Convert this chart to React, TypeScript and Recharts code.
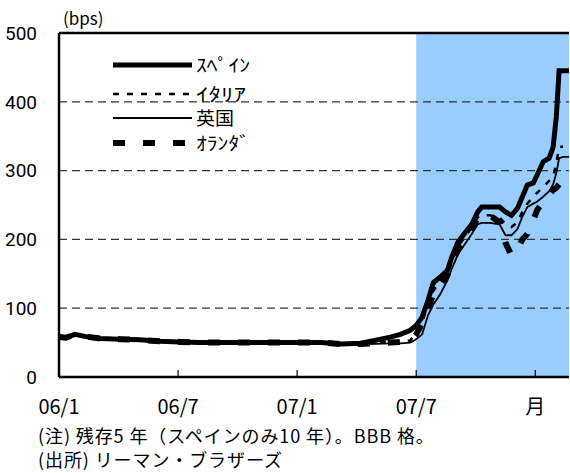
import { LineChart, Line, XAxis, YAxis, ReferenceArea, ReferenceLine, Legend } from 'recharts';

// x = months since 2006/1
const months = [0, 0.35, 0.8, 1.3, 2.07, 3.08, 4.08, 5.09, 6.1, 7.1, 8.6, 10.1, 12, 13.2, 14.2, 15.2, 15.9, 16.7, 17.2, 17.7, 18.0, 18.3, 18.6, 18.86, 19.2, 19.57, 19.8, 20.1, 20.5, 20.8, 21.1, 21.3, 21.7, 22.2, 22.5, 22.8, 23.1, 23.35, 23.6, 23.9, 24.1, 24.4, 24.7, 24.9, 25.06, 25.2, 25.4, 25.7];
const spain = [58, 57, 62, 59, 56, 55, 54, 52, 51, 50, 50, 50, 50, 50, 48, 49, 53, 58, 62, 68, 75, 87, 112, 137, 145, 155, 175, 196, 211, 222, 240, 247, 247, 247, 240, 235, 245, 262, 279, 282, 294, 313, 318, 334, 378, 445, 445, 445];
const italy = [58, 57, 62, 59, 56, 55, 54, 52, 51, 50, 50, 50, 50, 50, 48, 48, 50, 51, 52, 53, 65, 80, 105, 125, 140, 150, 168, 190, 205, 218, 232, 235, 235, 232, 222, 218, 225, 240, 252, 262, 268, 276, 285, 291, 310, 334, 335, null];
const uk = [57, 56, 61, 58, 55, 54, 53, 51, 50, 49, 49, 49, 49, 49, 47, 47, 48, 49, 49, 50, 55, 62, 90, 105, 120, 140, 158, 178, 195, 208, 222, 224, 224, 222, 206, 206, 215, 233, 247, 252, 255, 262, 270, 280, 296, 318, 320, 320];
const netherlands = [58, 57, 62, 59, 56, 55, 54, 52, 51, 50, 50, 50, 50, 50, 48, 48, 49, 50, 51, 52, 62, 78, 100, 120, 134, 148, 165, 185, 198, 215, 232, 236, 235, 225, 195, 177, 185, 200, 208, 228, 243, 255, 265, 272, 275, 280, null, null];

const xTicks = [0, 6, 12, 18, 24];
const xTickLabels = ['06/1', '06/7', '07/1', '07/7', '月'];
const yTicks = [0, 100, 200, 300, 400, 500];
const gridLevels = [100, 200, 300, 400];

const data = months.map((m, i) => ({
  m, spain: spain[i], italy: italy[i], uk: uk[i], netherlands: netherlands[i],
}));

const jp = '"Noto Sans CJK JP", sans-serif';

const legendRows = [
  { name: 'ｽﾍﾟｲﾝ', w: 5, dash: undefined, len: 54 },
  { name: 'ｲﾀﾘｱ', w: 2.5, dash: '6 8', len: 50 },
  { name: '英国', w: 1.8, dash: undefined, len: 38 },
  { name: 'ｵﾗﾝﾀﾞ', w: 6, dash: '12 18', len: 54 },
];
const legendY = [13, 42, 66, 91];

function LegendBox() {
  return (
    <svg width={160} height={105}>
      {legendRows.map((r, i) => (
        <g key={r.name}>
          <line x1={3} x2={82} y1={legendY[i]} y2={legendY[i]} stroke="#000" strokeWidth={r.w} strokeDasharray={r.dash} />
          <text x={86} y={legendY[i] + 7} fontSize={18} fontFamily={jp} fill="#000" textLength={r.len} lengthAdjust="spacingAndGlyphs">{r.name}</text>
        </g>
      ))}
    </svg>
  );
}

const noteStyle = { position: 'absolute' as const, left: 38, fontSize: 18, letterSpacing: 0.9, fontFamily: jp, lineHeight: '20px', whiteSpace: 'nowrap' as const };

export default function App() {
  return (
    <div style={{ position: 'absolute', left: 0, top: 0, width: 570, height: 473, background: '#fff', overflow: 'hidden' }}>
      <div style={{ position: 'absolute', left: 63, top: 7, fontSize: 17, fontFamily: jp, lineHeight: '22px' }}>(bps)</div>
      <LineChart width={570} height={473} data={data} margin={{ top: 33, right: 1, bottom: 66, left: 0 }}>
        <XAxis
          type="number" dataKey="m" domain={[0, 25.7]} ticks={xTicks} interval={0}
          tickFormatter={(v) => xTickLabels[xTicks.indexOf(v)] ?? ''}
          tickLine={false} axisLine={{ stroke: '#000', strokeWidth: 2.5 }} height={30}
          tick={{ fontSize: 20, fill: '#000', fontFamily: jp }} tickMargin={17}
        />
        <YAxis
          type="number" domain={[0, 500]} ticks={yTicks} width={59} interval={0}
          tickLine={false} axisLine={{ stroke: '#000', strokeWidth: 2.5 }}
          tick={{ fontSize: 19, fill: '#000', fontFamily: 'Roboto, sans-serif' }} tickMargin={16}
        />
        <ReferenceArea x1={18} x2={25.7} y1={0} y2={500} fill="#99CCFF" fillOpacity={1} stroke="none" />
        {gridLevels.map((g) => (
          <ReferenceLine key={g} y={g} stroke="#333" strokeDasharray="8 5" strokeWidth={1.2} />
        ))}
        <ReferenceLine y={500} stroke="#000" strokeWidth={2.5} />
        {xTicks.slice(1).map((t) => (
          <ReferenceLine key={t} segment={[{ x: t, y: 0 }, { x: t, y: 10 }]} stroke="#000" strokeWidth={1.2} />
        ))}
        <Legend
          layout="vertical" align="center" verticalAlign="middle"
          wrapperStyle={{ left: 110, top: 52, width: 160, height: 105 }}
          content={() => <LegendBox />}
        />
        <Line dataKey="netherlands" stroke="#000" strokeWidth={6} strokeDasharray="12 18" dot={false} isAnimationActive={false} />
        <Line dataKey="uk" stroke="#000" strokeWidth={1.8} dot={false} isAnimationActive={false} />
        <Line dataKey="italy" stroke="#000" strokeWidth={2.5} strokeDasharray="6 8" dot={false} isAnimationActive={false} />
        <Line dataKey="spain" stroke="#000" strokeWidth={5} dot={false} isAnimationActive={false} />
      </LineChart>
      <div style={{ ...noteStyle, top: 425 }}>(注) 残存5 年（スペインのみ10 年）。BBB 格。</div>
      <div style={{ ...noteStyle, top: 449 }}>(出所) リーマン・ブラザーズ</div>
    </div>
  );
}
